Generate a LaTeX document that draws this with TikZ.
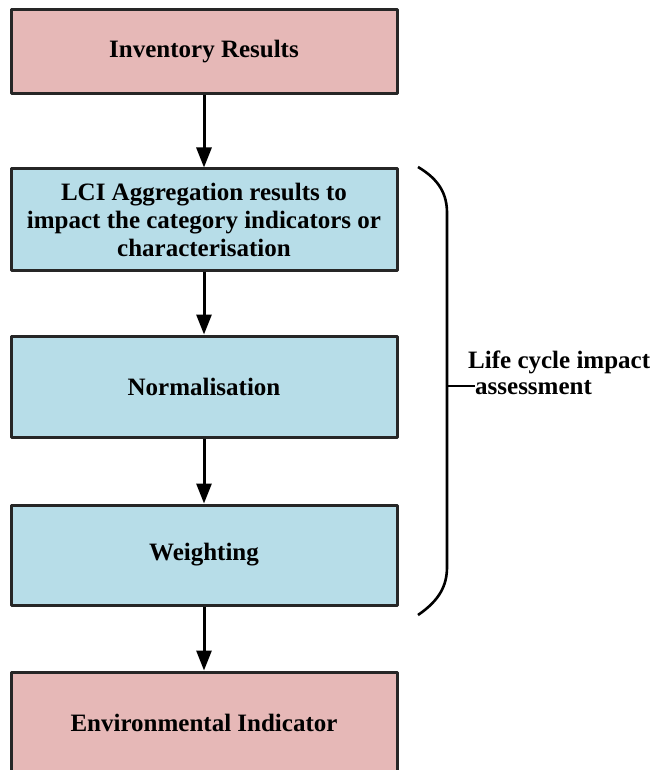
\documentclass[tikz,border=0pt]{standalone}
\usepackage{fontspec}
\setmainfont{Liberation Serif}
\usetikzlibrary{arrows.meta}
\definecolor{pinkbox}{HTML}{E6B8B7}
\definecolor{bluebox}{HTML}{B7DDE8}
\tikzset{
  stepbox/.style={draw=black!85, line width=3pt, minimum width=386pt,
    align=center, font=\fontsize{25}{28}\selectfont\bfseries, inner sep=0pt},
  flow/.style={line width=3pt, -{Triangle[length=20pt,width=15pt]}}
}
\begin{document}
\begin{tikzpicture}[x=1pt,y=-1pt,line join=round]
		%==khung
		\useasboundingbox (0,0) rectangle (661,770);
		\def\cx{204}
		%==============
		\node[stepbox,fill=pinkbox,minimum height=84pt] (inv) at (\cx,52) {Inventory Results};
		\node[stepbox,fill=bluebox,minimum height=101pt] (lci) at (\cx,219.5)
		{LCI Aggregation results to\\impact the category indicators or\\characterisation};
		\node[stepbox,fill=bluebox,minimum height=101pt] (norm) at (\cx,386.5) {Normalisation};
		\node[stepbox,fill=bluebox,minimum height=100pt] (wgt) at (\cx,555) {Weighting};
		\node[stepbox,fill=pinkbox,minimum height=102pt] (env) at (\cx,723) {Environmental Indicator};
		\draw[flow] (inv)--(lci);
		\draw[flow] (lci)--(norm);
		\draw[flow] (norm)--(wgt);
		\draw[flow] (wgt)--(env);
		%==ngoac
		\draw[line width=2.6pt] (418,167) .. controls (440,180) and (447,195) .. (447,213)
		--(447,567) .. controls (447,585) and (440,600) .. (418,615);
		\coordinate (T) at (447,386);
		\node[anchor=west,align=left,inner sep=0pt,font=\fontsize{25}{26}\selectfont\bfseries]
		(lcia) at (475,373) {\hspace*{-7pt}Life cycle impact\\assessment};
		\draw[line width=2.6pt] (T)--(lcia.west|-T);
		\end{tikzpicture}
\end{document}
